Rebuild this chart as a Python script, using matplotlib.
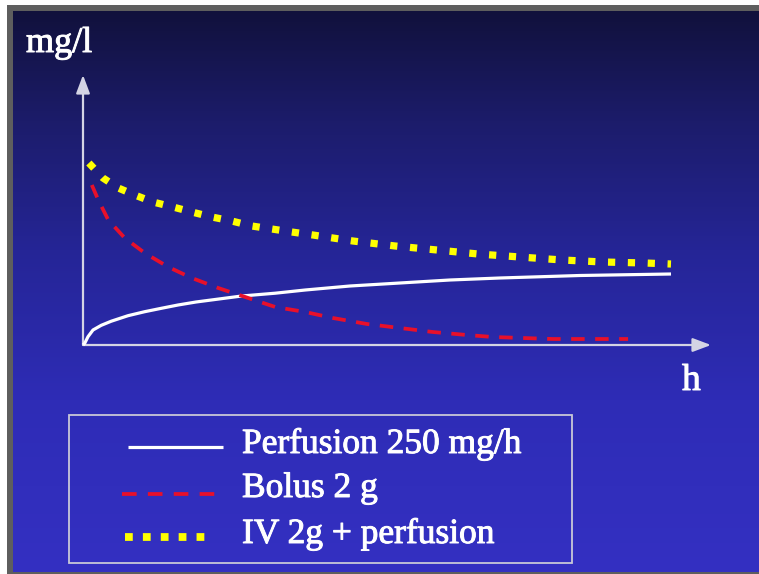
import numpy as np
import matplotlib
matplotlib.use("Agg")
import matplotlib.pyplot as plt
import matplotlib.patheffects as pe
from matplotlib.patches import Rectangle, FancyArrowPatch

# ---- data (time in h, concentration in mg/l) ----
perf_t = [0.0, 0.029, 0.085, 0.17, 0.311, 0.481, 0.765, 1.049, 1.332, 1.616, 1.922,
          2.70, 3.27, 3.78, 4.54, 5.39, 6.24, 7.09, 8.45, 10.0]
perf_c = [0.0, 0.17, 0.83, 1.5, 1.97, 2.38, 2.93, 3.33, 3.67, 4.0, 4.3,
          4.9, 5.18, 5.5, 5.9, 6.2, 6.5, 6.7, 6.95, 7.1]

bolus_t = [0.15, 0.26, 0.43, 0.71, 1.05, 1.45, 1.85, 2.30, 2.81, 3.27, 3.78, 4.25,
           4.83, 5.39, 5.95, 6.53, 6.97, 7.48, 7.99, 8.50, 9.27]
bolus_c = [16.0, 14.5, 12.5, 10.7, 9.2, 7.8, 6.7, 5.7, 4.7, 3.8, 3.3, 2.7,
           2.1, 1.7, 1.3, 1.0, 0.8, 0.7, 0.6, 0.6, 0.6]

combo_t = [0.10, 0.34, 0.60, 0.88, 1.19, 1.53, 1.85, 2.19, 2.53, 2.87, 3.21, 3.55,
           3.91, 4.59, 5.31, 6.02, 6.72, 7.43, 8.15, 8.84, 9.56, 10.0]
combo_c = [18.2, 16.7, 15.7, 15.0, 14.3, 13.8, 13.3, 12.8, 12.4, 11.9, 11.6, 11.3,
           11.0, 10.4, 9.9, 9.5, 9.1, 8.8, 8.5, 8.3, 8.2, 8.1]

labels = ["Perfusion 250 mg/h", "Bolus 2 g", "IV 2g + perfusion"]
y_label = "mg/l"
x_label = "h"

# ---- figure geometry (pixels) ----
W, H = 759, 574
DPI = 100
X0, Y0 = 83, 345          # origin of the plot axes in pixels
PX_PER_H = 58.8
PX_PER_MG = 10.0


def dx(px):
    return (px - X0) / PX_PER_H


def dy(py):
    return (Y0 - py) / PX_PER_MG


fig = plt.figure(figsize=(W / DPI, H / DPI), dpi=DPI, facecolor="white")

# background: grey frame + vertical blue gradient
bg = fig.add_axes([0, 0, 1, 1])
bg.set_xlim(0, W)
bg.set_ylim(H, 0)
bg.axis("off")
bg.add_patch(Rectangle((7, 5), W - 7, H - 5, color="#5e5e5e", lw=0))
stops_y = [11, 120, 250, 400, 572]
stops_c = np.array([[17, 17, 60], [28, 28, 106], [37, 37, 150], [46, 44, 182], [52, 48, 194]]) / 255.0
ys = np.linspace(11, 572, 400)
grad = np.stack([np.interp(ys, stops_y, stops_c[:, k]) for k in range(3)], axis=-1)
grad = np.repeat(grad[:, None, :], 2, axis=1)
bg.imshow(grad, extent=(13, W, 572, 11), aspect="auto", interpolation="bilinear", zorder=1)

# plot axes mapped so that data units line up with the pixel layout
ax = fig.add_axes([0, 0, 1, 1])
ax.patch.set_alpha(0)
ax.axis("off")
ax.set_xlim(dx(0), dx(W))
ax.set_ylim(dy(H), dy(0))

axis_col = "#d4d4e4"
arrow_kw = dict(arrowstyle="-|>,head_length=0.85,head_width=0.32", mutation_scale=13,
                color=axis_col, lw=1.6, shrinkA=0, shrinkB=0)
ax.add_patch(FancyArrowPatch((dx(X0), dy(Y0)), (dx(X0), dy(75)), **arrow_kw))
ax.add_patch(FancyArrowPatch((dx(X0), dy(Y0)), (dx(711), dy(Y0)), **arrow_kw))

white_style = dict(color="white", lw=2.3, solid_capstyle="butt", solid_joinstyle="round")
red_style = dict(color="#e8102a", lw=2.7, ls=(0, (3.6, 2.8)), dash_capstyle="butt")
yel_style = dict(color="#ffff00", lw=5.2, ls=(0, (1.0, 1.75)), dash_capstyle="butt")

ax.plot(perf_t, perf_c, **white_style, zorder=3)
ax.plot(bolus_t, bolus_c, **red_style, zorder=3)
ax.plot(combo_t, combo_c, **yel_style, zorder=4)

serif = ["Liberation Serif", "DejaVu Serif"]
thick = [pe.withStroke(linewidth=0.7, foreground="white")]
ax.text(dx(26), dy(52), y_label, family=serif, fontsize=26, color="white",
        ha="left", va="baseline", path_effects=thick)
ax.text(dx(682), dy(390), x_label, family=serif, fontsize=27, color="white",
        ha="left", va="baseline", path_effects=thick)

# legend box drawn by hand
ax.add_patch(Rectangle((dx(69), dy(563)), dx(572) - dx(69), dy(415) - dy(563),
                       fill=False, ec="#c8c8d8", lw=1.3, zorder=2))
ax.plot([dx(128), dx(223)], [dy(447), dy(447)], **white_style)
ax.plot([dx(122), dx(218)], [dy(494), dy(494)], color="#e8102a", lw=2.7,
        ls=(0, (3.9, 3.0)), dash_capstyle="butt")
ax.plot([dx(125), dx(212)], [dy(537), dy(537)], color="#ffff00", lw=5.6,
        ls=(0, (1.0, 1.3)), dash_capstyle="butt")
for lab, py in zip(labels, [453, 497, 543]):
    ax.text(dx(242), dy(py), lab, family=serif, fontsize=25.5, color="white",
            ha="left", va="baseline", path_effects=thick)

fig.savefig("out.png", dpi=DPI, facecolor="white")
